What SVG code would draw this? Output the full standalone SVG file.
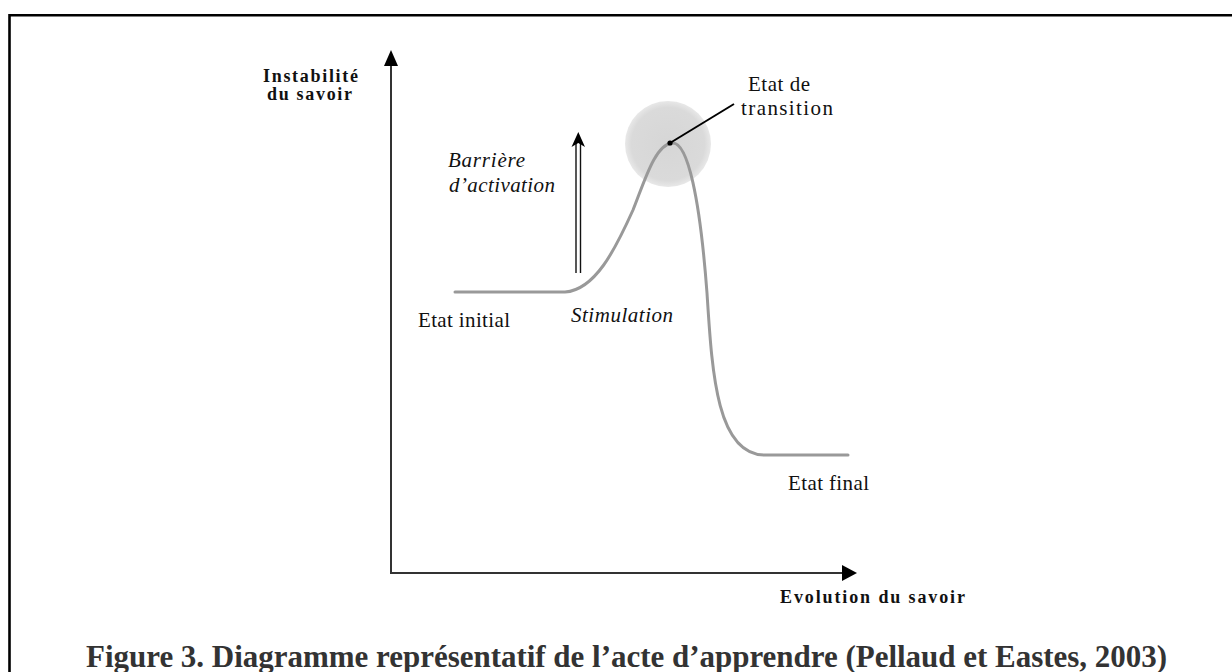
<svg xmlns="http://www.w3.org/2000/svg" width="1232" height="672" viewBox="0 0 1232 672">
<style>
.lbl{font-family:"Liberation Serif","Times New Roman",serif;font-size:21px;fill:#111}
.b{font-weight:bold}
.ax{font-size:18px}
.i{font-style:italic}
.axis{stroke:#333;stroke-width:2;fill:none}
.curve{stroke:#999;stroke-width:3;fill:none;stroke-linecap:round}
</style>
<defs>
<radialGradient id="glow" cx="0.5" cy="0.5" r="0.5">
<stop offset="0" stop-color="#d6d6d6"/>
<stop offset="0.85" stop-color="#dadada"/>
<stop offset="1" stop-color="#e8e8e8"/>
</radialGradient>
</defs>
<rect width="1232" height="672" fill="#fff"/>
<path d="M9.5,672 V15.3 H1232" fill="none" stroke="#000" stroke-width="2.6"/>
<g id="transition-zone">
<circle cx="668" cy="144" r="43" fill="url(#glow)"/>
</g>
<g id="connectors">
<path class="axis" d="M391,573 V62"/>
<polygon points="391,50 384,66 398,66" fill="#000"/>
<path class="axis" d="M390,573 H845"/>
<polygon points="857,573 842,565 842,581" fill="#000"/>
<path class="curve" d="M455,292 L565,292 C595,290 615,250 633,210 C645,180 655,145 672,143 C688,141 700,200 707,293 C712,370 716,455 765,455 L848,455"/>
<line x1="576" y1="273" x2="576" y2="142" stroke="#111" stroke-width="1.4"/>
<line x1="580.5" y1="273" x2="580.5" y2="142" stroke="#111" stroke-width="1.4"/>
<polygon points="578.3,132 571.5,147 578.3,143 585,147" fill="#000"/>
<line x1="670" y1="143" x2="734" y2="104" stroke="#000" stroke-width="2"/>
<circle cx="670" cy="143" r="2.6" fill="#000"/>
</g>
<g id="y-label">
<text class="lbl b ax" x="263" y="82" textLength="95">Instabilité</text>
<text class="lbl b ax" x="267" y="100" textLength="85">du savoir</text>
</g>
<g id="x-label">
<text class="lbl b ax" x="780" y="603" textLength="185">Evolution du savoir</text>
</g>
<g id="etat-transition">
<text class="lbl" x="748" y="91" textLength="62">Etat de</text>
<text class="lbl" x="741" y="115" textLength="92">transition</text>
</g>
<g id="barriere">
<text class="lbl i" x="448" y="167" textLength="77">Barrière</text>
<text class="lbl i" x="449" y="192" textLength="106">d’activation</text>
</g>
<g id="etat-initial">
<text class="lbl" x="418" y="327" textLength="92">Etat initial</text>
</g>
<g id="stimulation">
<text class="lbl i" x="571" y="322" textLength="102">Stimulation</text>
</g>
<g id="etat-final">
<text class="lbl" x="788" y="490" textLength="81">Etat final</text>
</g>
<g id="caption">
<text x="86" y="667" font-family="'Liberation Serif','Times New Roman',serif" font-size="31" font-weight="bold" fill="#333" textLength="1081">Figure 3. Diagramme représentatif de l’acte d’apprendre (Pellaud et Eastes, 2003)</text>
</g>
</svg>
